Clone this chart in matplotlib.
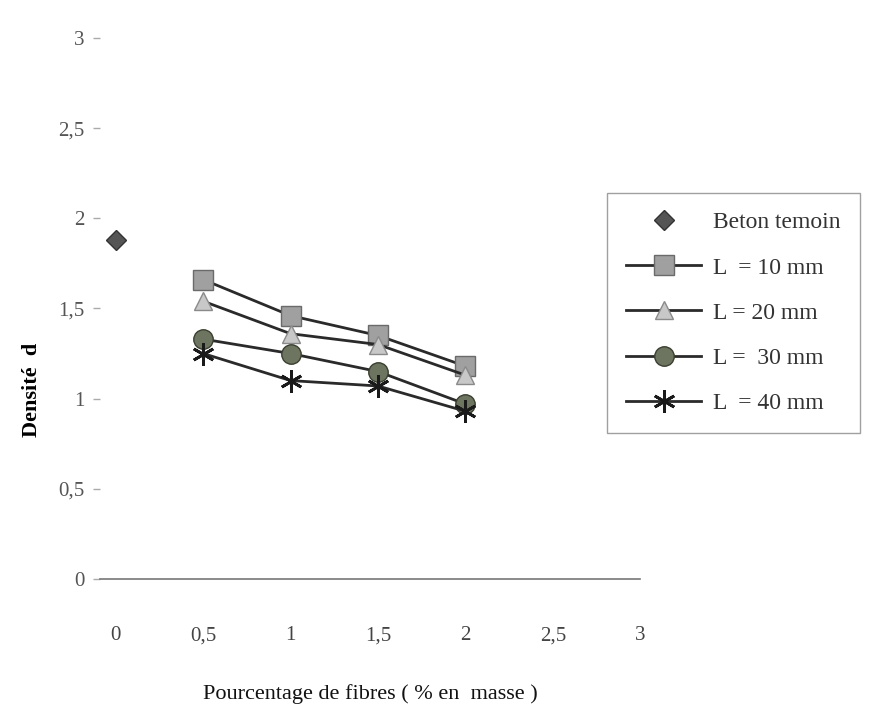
import matplotlib.pyplot as plt
import matplotlib.ticker as mticker
import numpy as np

plt.rcParams['font.family'] = ['Liberation Serif', 'DejaVu Serif']

# data
fibres = [0.5, 1.0, 1.5, 2.0]
temoin_x = [0.0]
temoin_y = [1.88]
d_10 = [1.66, 1.46, 1.35, 1.18]
d_20 = [1.54, 1.36, 1.30, 1.13]
d_30 = [1.33, 1.25, 1.15, 0.97]
d_40 = [1.25, 1.10, 1.07, 0.93]

labels = ['Beton temoin', 'L  = 10 mm', 'L = 20 mm', 'L =  30 mm', 'L  = 40 mm']

fig = plt.figure(figsize=(8.9, 7.13), dpi=100)
ax = fig.add_axes([0.1124, 0.188, 0.607, 0.7588])

ax.plot(temoin_x, temoin_y, ls='none', marker='D', ms=10, color='#555555',
        mec='#333333', label=labels[0])
ax.plot(fibres, d_10, '-', color='#2a2a2a', lw=2, marker='s', ms=14,
        mfc='#a0a0a0', mec='#6a6a6a', label=labels[1])
ax.plot(fibres, d_20, '-', color='#2a2a2a', lw=2, marker='^', ms=13,
        mfc='#c8c8c8', mec='#8a8a8a', label=labels[2])
ax.plot(fibres, d_30, '-', color='#2a2a2a', lw=2, marker='o', ms=14,
        mfc='#6d7560', mec='#3a3f30', label=labels[3])
ax.plot(fibres, d_40, '-', color='#2a2a2a', lw=2, marker=(6, 2, 0), ms=16,
        mew=2, mec='#1a1a1a', label=labels[4])

##########
# axes

ax.set_xlim(-0.09, 3.0)
ax.set_ylim(0, 3)
ax.xaxis.set_major_locator(mticker.FixedLocator(np.arange(0, 3.01, 0.5)))
ax.yaxis.set_major_locator(mticker.FixedLocator(np.arange(0, 3.01, 0.5)))
fmt = mticker.FuncFormatter(lambda v, p: ('%g' % v).replace('.', ','))
ax.xaxis.set_major_formatter(fmt)
ax.yaxis.set_major_formatter(fmt)

for s in ['top', 'right', 'left']:
    ax.spines[s].set_visible(False)
ax.spines['bottom'].set_color('#777777')
ax.spines['bottom'].set_linewidth(1.2)

ax.tick_params(axis='x', length=0, pad=34, labelsize=15, labelcolor='#444444')
ax.tick_params(axis='y', length=5, width=1, color='#aaaaaa', pad=6,
               labelsize=15, labelcolor='#555555')

ax.set_xlabel('Pourcentage de fibres ( % en  masse )', fontsize=16,
              labelpad=28, color='#111111')
ax.set_ylabel('Densité  d', fontsize=16, fontweight='bold')
ax.yaxis.set_label_coords(-0.107, 0.35)

leg = fig.legend(loc='upper left', bbox_to_anchor=(607 / 890, 1 - 193 / 713),
                 fontsize=17, frameon=True, fancybox=False, borderpad=0.8,
                 labelspacing=1.0, handlelength=3.2, handletextpad=0.5,
                 borderaxespad=0)
leg.get_frame().set_edgecolor('#888888')
leg.get_frame().set_linewidth(1.0)
for t in leg.get_texts():
    t.set_color('#333333')

fig.savefig('out.png', dpi=100)
